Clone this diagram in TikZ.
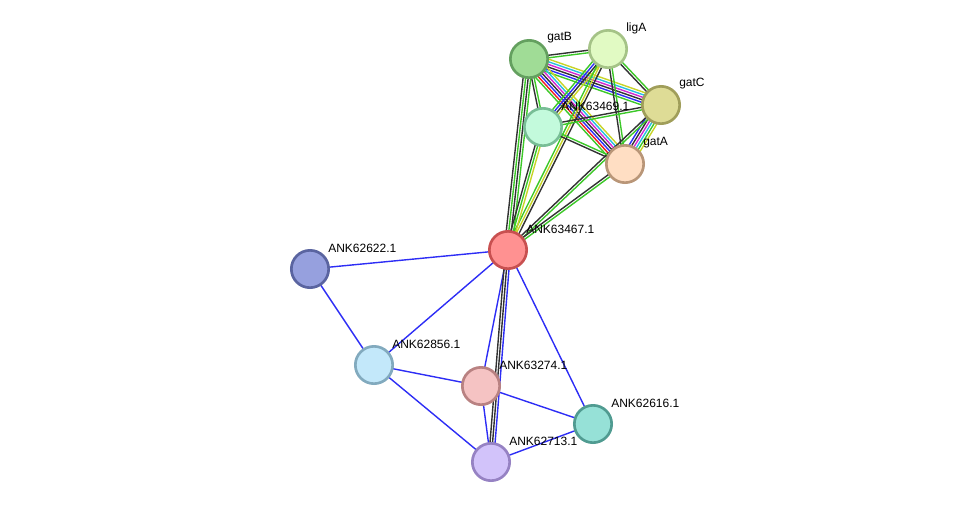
\documentclass[tikz,border=0pt]{standalone}
\usepackage{fontspec}
\setmainfont{Liberation Sans}
\usetikzlibrary{
    calc,
    backgrounds
}

% evidence colours
\definecolor{evgreen}{RGB}{60,200,40}
\definecolor{evyellow}{RGB}{200,212,40}
\definecolor{evblack}{RGB}{50,50,50}
\definecolor{evmagenta}{RGB}{210,40,210}
\definecolor{evcyan}{RGB}{40,190,225}
\definecolor{evblue}{RGB}{45,45,245}
\definecolor{evred}{RGB}{240,30,30}

\tikzset{
    prot/.style={circle, draw, line width=2pt, minimum size=28pt, inner sep=0pt},
    lbl/.style={anchor=west, inner sep=0pt, font=\fontsize{9}{10}\selectfont},
    evid/.style={line width=1.05pt}
}

% parallel lines between two proteins, one per colour
\newcommand{\evidence}[3]{%
    \foreach \c [count=\n] in {#3} {\xdef\evn{\n}}%
    \foreach \c [count=\i] in {#3} {%
        \pgfmathsetmacro{\o}{(\i-(\evn+1)/2)*1.9}%
        \draw[evid,\c] ($(#1)!\o pt!90:(#2)$) -- ($(#2)!\o pt!-90:(#1)$);
    }%
}

\begin{document}
\begin{tikzpicture}[x=0.75pt,y=-0.75pt]

\useasboundingbox (0,0) rectangle (975,508);

% proteins
\node[prot, fill={rgb,255:red,160;green,220;blue,150}, draw={rgb,255:red,100;green,160;blue,95}] (gatB) at (529,59) {};
\node[prot, fill={rgb,255:red,225;green,250;blue,195}, draw={rgb,255:red,165;green,195;blue,135}] (ligA) at (608,49) {};
\node[prot, fill={rgb,255:red,222;green,220;blue,150}, draw={rgb,255:red,160;green,158;blue,90}] (gatC) at (661,105) {};
\node[prot, fill={rgb,255:red,195;green,250;blue,220}, draw={rgb,255:red,120;green,190;blue,150}] (p63469) at (543,127) {};
\node[prot, fill={rgb,255:red,255;green,222;blue,195}, draw={rgb,255:red,185;green,150;blue,120}] (gatA) at (625,164) {};
\node[prot, fill={rgb,255:red,255;green,145;blue,145}, draw={rgb,255:red,200;green,80;blue,80}] (p63467) at (508,250) {};
\node[prot, fill={rgb,255:red,150;green,160;blue,222}, draw={rgb,255:red,90;green,100;blue,160}] (p62622) at (310,269) {};
\node[prot, fill={rgb,255:red,195;green,232;blue,250}, draw={rgb,255:red,130;green,170;blue,190}] (p62856) at (374,365) {};
\node[prot, fill={rgb,255:red,245;green,195;blue,195}, draw={rgb,255:red,185;green,130;blue,130}] (p63274) at (481,386) {};
\node[prot, fill={rgb,255:red,150;green,225;blue,215}, draw={rgb,255:red,80;green,155;blue,145}] (p62616) at (593,424) {};
\node[prot, fill={rgb,255:red,210;green,195;blue,250}, draw={rgb,255:red,150;green,130;blue,195}] (p62713) at (491,462) {};

% labels
\node[lbl] (l-gatB) at ([shift={(18,-21)}]gatB) {gatB};
\node[lbl] (l-ligA) at ([shift={(18,-21)}]ligA) {ligA};
\node[lbl] (l-gatC) at ([shift={(18,-21)}]gatC) {gatC};
\node[lbl] (l-63469) at ([shift={(18,-21)}]p63469) {ANK63469.1};
\node[lbl] (l-gatA) at ([shift={(18,-21)}]gatA) {gatA};
\node[lbl] (l-63467) at ([shift={(18,-21)}]p63467) {ANK63467.1};
\node[lbl] (l-62622) at ([shift={(18,-21)}]p62622) {ANK62622.1};
\node[lbl] (l-62856) at ([shift={(18,-21)}]p62856) {ANK62856.1};
\node[lbl] (l-63274) at ([shift={(18,-21)}]p63274) {ANK63274.1};
\node[lbl] (l-62616) at ([shift={(18,-21)}]p62616) {ANK62616.1};
\node[lbl] (l-62713) at ([shift={(18,-21)}]p62713) {ANK62713.1};

\begin{scope}[on background layer]
% gat cluster
\evidence{gatB}{ligA}{evgreen,evblack}
\evidence{gatB}{gatC}{evgreen,evblue,evblack,evmagenta,evcyan,evyellow}
\evidence{gatB}{gatA}{evgreen,evred,evblue,evblack,evmagenta,evcyan,evyellow}
\evidence{gatB}{p63469}{evblack,evgreen}
\evidence{gatB}{p63467}{evblack,evgreen,evblack,evgreen}
\evidence{ligA}{gatC}{evblack,evgreen}
\evidence{ligA}{gatA}{evblack,evgreen}
\evidence{ligA}{p63469}{evgreen,evblue,evblack,evyellow}
\evidence{ligA}{p63467}{evgreen,evyellow,evblack}
\evidence{gatC}{p63469}{evblack,evgreen}
\evidence{gatC}{gatA}{evblue,evblack,evmagenta,evcyan,evgreen,evyellow}
\evidence{gatC}{p63467}{evblack,evgreen}
\evidence{p63469}{gatA}{evblack,evgreen}
\evidence{p63469}{p63467}{evblack,evgreen,evyellow}
\evidence{gatA}{p63467}{evblack,evgreen}

% lower part
\evidence{p62622}{p63467}{evblue}
\evidence{p62622}{p62856}{evblue}
\evidence{p62856}{p63467}{evblue}
\evidence{p62856}{p63274}{evblue}
\evidence{p62856}{p62713}{evblue}
\evidence{p63274}{p63467}{evblue}
\evidence{p63274}{p62616}{evblue}
\evidence{p63274}{p62713}{evblue}
\evidence{p62713}{p63467}{evblue,evblack,evblack}
\evidence{p62616}{p63467}{evblue}
\evidence{p62616}{p62713}{evblue}
\end{scope}

\end{tikzpicture}
\end{document}
